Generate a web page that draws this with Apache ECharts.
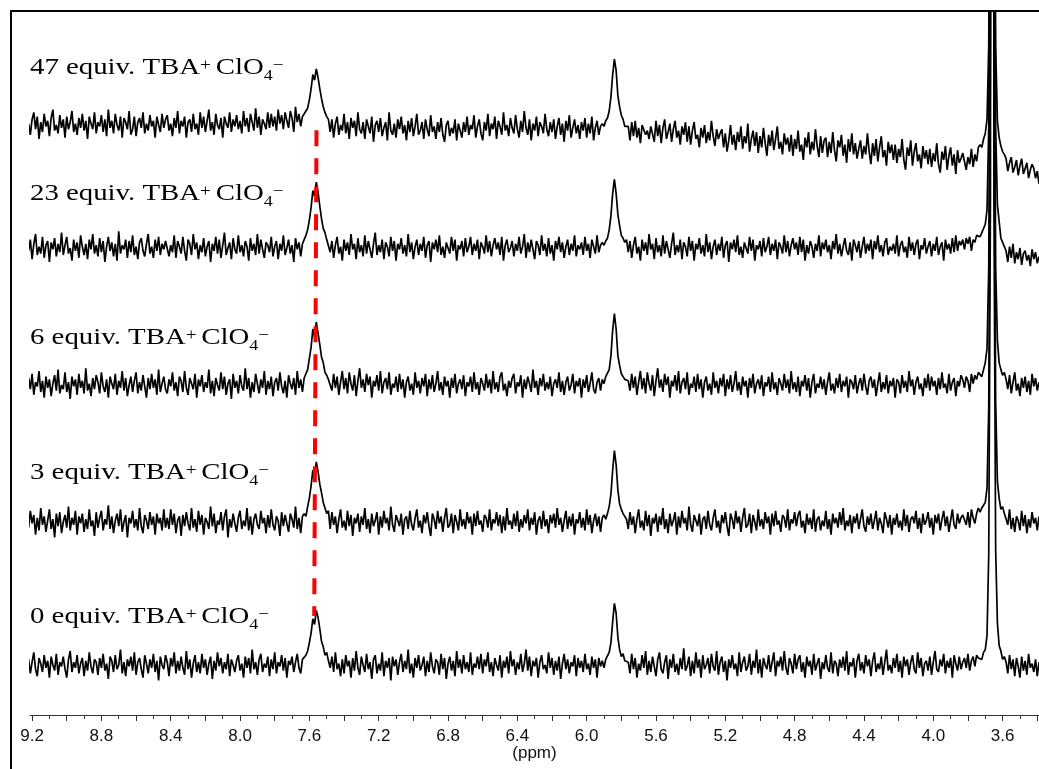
<!DOCTYPE html>
<html><head><meta charset="utf-8">
<script src="https://cdn.jsdelivr.net/npm/echarts@6/dist/echarts.min.js"></script>
<style>html,body{margin:0;padding:0;background:#fff}#c{width:1039px;height:769px}</style>
</head><body><div id="c"></div>
<script>
// chemical shift sample positions (ppm), 0.01 ppm apart
const ppm = [
9.22,9.21,9.20,9.19,9.18,9.17,9.16,9.15,9.14,9.13,9.12,9.11,9.10,9.09,9.08,9.07,9.06,9.05,9.04,9.03,
9.02,9.01,9.00,8.99,8.98,8.97,8.96,8.95,8.94,8.93,8.92,8.91,8.90,8.89,8.88,8.87,8.86,8.85,8.84,8.83,
8.82,8.81,8.80,8.79,8.78,8.77,8.76,8.75,8.74,8.73,8.72,8.71,8.70,8.69,8.68,8.67,8.66,8.65,8.64,8.63,
8.62,8.61,8.60,8.59,8.58,8.57,8.56,8.55,8.54,8.53,8.52,8.51,8.50,8.49,8.48,8.47,8.46,8.45,8.44,8.43,
8.42,8.41,8.40,8.39,8.38,8.37,8.36,8.35,8.34,8.33,8.32,8.31,8.30,8.29,8.28,8.27,8.26,8.25,8.24,8.23,
8.22,8.21,8.20,8.19,8.18,8.17,8.16,8.15,8.14,8.13,8.12,8.11,8.10,8.09,8.08,8.07,8.06,8.05,8.04,8.03,
8.02,8.01,8.00,7.99,7.98,7.97,7.96,7.95,7.94,7.93,7.92,7.91,7.90,7.89,7.88,7.87,7.86,7.85,7.84,7.83,
7.82,7.81,7.80,7.79,7.78,7.77,7.76,7.75,7.74,7.73,7.72,7.71,7.70,7.69,7.68,7.67,7.66,7.65,7.64,7.63,
7.62,7.61,7.60,7.59,7.58,7.57,7.56,7.55,7.54,7.53,7.52,7.51,7.50,7.49,7.48,7.47,7.46,7.45,7.44,7.43,
7.42,7.41,7.40,7.39,7.38,7.37,7.36,7.35,7.34,7.33,7.32,7.31,7.30,7.29,7.28,7.27,7.26,7.25,7.24,7.23,
7.22,7.21,7.20,7.19,7.18,7.17,7.16,7.15,7.14,7.13,7.12,7.11,7.10,7.09,7.08,7.07,7.06,7.05,7.04,7.03,
7.02,7.01,7.00,6.99,6.98,6.97,6.96,6.95,6.94,6.93,6.92,6.91,6.90,6.89,6.88,6.87,6.86,6.85,6.84,6.83,
6.82,6.81,6.80,6.79,6.78,6.77,6.76,6.75,6.74,6.73,6.72,6.71,6.70,6.69,6.68,6.67,6.66,6.65,6.64,6.63,
6.62,6.61,6.60,6.59,6.58,6.57,6.56,6.55,6.54,6.53,6.52,6.51,6.50,6.49,6.48,6.47,6.46,6.45,6.44,6.43,
6.42,6.41,6.40,6.39,6.38,6.37,6.36,6.35,6.34,6.33,6.32,6.31,6.30,6.29,6.28,6.27,6.26,6.25,6.24,6.23,
6.22,6.21,6.20,6.19,6.18,6.17,6.16,6.15,6.14,6.13,6.12,6.11,6.10,6.09,6.08,6.07,6.06,6.05,6.04,6.03,
6.02,6.01,6.00,5.99,5.98,5.97,5.96,5.95,5.94,5.93,5.92,5.91,5.90,5.89,5.88,5.87,5.86,5.85,5.84,5.83,
5.82,5.81,5.80,5.79,5.78,5.77,5.76,5.75,5.74,5.73,5.72,5.71,5.70,5.69,5.68,5.67,5.66,5.65,5.64,5.63,
5.62,5.61,5.60,5.59,5.58,5.57,5.56,5.55,5.54,5.53,5.52,5.51,5.50,5.49,5.48,5.47,5.46,5.45,5.44,5.43,
5.42,5.41,5.40,5.39,5.38,5.37,5.36,5.35,5.34,5.33,5.32,5.31,5.30,5.29,5.28,5.27,5.26,5.25,5.24,5.23,
5.22,5.21,5.20,5.19,5.18,5.17,5.16,5.15,5.14,5.13,5.12,5.11,5.10,5.09,5.08,5.07,5.06,5.05,5.04,5.03,
5.02,5.01,5.00,4.99,4.98,4.97,4.96,4.95,4.94,4.93,4.92,4.91,4.90,4.89,4.88,4.87,4.86,4.85,4.84,4.83,
4.82,4.81,4.80,4.79,4.78,4.77,4.76,4.75,4.74,4.73,4.72,4.71,4.70,4.69,4.68,4.67,4.66,4.65,4.64,4.63,
4.62,4.61,4.60,4.59,4.58,4.57,4.56,4.55,4.54,4.53,4.52,4.51,4.50,4.49,4.48,4.47,4.46,4.45,4.44,4.43,
4.42,4.41,4.40,4.39,4.38,4.37,4.36,4.35,4.34,4.33,4.32,4.31,4.30,4.29,4.28,4.27,4.26,4.25,4.24,4.23,
4.22,4.21,4.20,4.19,4.18,4.17,4.16,4.15,4.14,4.13,4.12,4.11,4.10,4.09,4.08,4.07,4.06,4.05,4.04,4.03,
4.02,4.01,4.00,3.99,3.98,3.97,3.96,3.95,3.94,3.93,3.92,3.91,3.90,3.89,3.88,3.87,3.86,3.85,3.84,3.83,
3.82,3.81,3.80,3.79,3.78,3.77,3.76,3.75,3.74,3.73,3.72,3.71,3.70,3.69,3.68,3.67,3.66,3.65,3.64,3.63,
3.62,3.61,3.60,3.59,3.58,3.57,3.56,3.55,3.54,3.53,3.52,3.51,3.50,3.49,3.48,3.47,3.46,3.45,3.44,3.43,
3.42,3.41,3.40,3.39
];

// intensities (a.u.), relative to that trace's own baseline
const int47 = [
1,-7,4,9,-3,6,-10,2,-5,8,-1,3,-8,5,11,-4,0,-6,7,-2,
4,-9,6,-3,2,10,-5,1,-7,5,-2,8,-4,3,-10,6,1,-3,9,-6,
2,-1,7,-5,4,-8,11,-2,3,-6,8,0,-4,6,-9,5,2,-3,10,-7,
-3,6,-8,2,5,-2,9,-6,1,-4,7,-1,3,-9,6,0,-5,8,-2,4,
7,-4,1,-8,5,-2,10,-6,3,-1,6,-9,2,4,-5,8,-3,1,-7,9,
-2,6,-5,3,11,-4,2,-7,8,0,-3,5,-9,6,1,-2,9,-5,4,-1,
7,-3,3,-6,10,-1,5,-5,8,2,-4,12,-2,6,-7,4,1,-3,9,-2,
8,-1,6,-4,11,1,7,-3,9,3,-2,10,5,-5,13,2,8,-1,6,7,
10,12,18,26,36,32,40,34,26,19,13,9,6,4,-5,4,-9,1,6,-7,
0,-4,8,-6,2,-10,5,-2,3,-8,9,-3,-6,2,-10,4,-1,-6,6,-12,
0,3,-5,5,-8,-2,2,-11,9,-4,-7,1,-9,4,-3,6,-6,0,-11,3,
-5,5,-8,-1,8,-7,-4,2,-10,4,-3,-8,7,-5,-1,-10,2,-5,5,-7,
-12,0,3,-8,-2,-6,4,-11,1,-4,-9,2,-5,6,-7,0,-3,7,-9,-1,
4,-6,-11,2,-4,8,-8,1,-3,6,-10,3,-1,-7,9,-4,0,-8,5,-2,
-6,7,-3,-9,3,-5,10,-2,-7,4,-11,1,-4,6,-8,2,-1,-6,8,-3,
-8,2,-5,4,-10,-1,5,-7,1,-12,3,-4,7,-9,-2,4,-6,0,-10,2,
-4,5,-9,1,-6,6,-11,-2,3,-7,-1,1,-1,3,5,10,20,36,47,39,
21,13,7,4,-1,-2,-1,-11,2,-8,3,-9,-2,-13,0,1,-7,-4,-10,-1,
-1,-12,3,-8,0,-13,-2,4,-10,-5,1,-12,-3,3,-9,-4,-14,-1,-7,2,
-12,-1,-14,-4,2,-10,-7,-16,-2,-9,0,-13,-5,-11,3,-8,-15,-3,-10,-6,
-3,-16,-6,-19,-11,0,-14,-7,-18,-5,-12,-1,-17,-8,-13,1,-19,-10,-4,-15,
-5,-20,-8,-16,-2,-13,-22,-7,-15,-4,-18,-10,-1,-17,-12,-21,-6,-14,-9,-19,
-7,-22,-10,-17,-4,-19,-14,-25,-9,-16,-5,-21,-12,-18,-3,-15,-23,-8,-20,-11,
-9,-23,-12,-20,-5,-18,-26,-11,-16,-7,-22,-14,-27,-10,-19,-6,-21,-13,-24,-17,
-11,-24,-15,-21,-6,-19,-28,-13,-22,-10,-26,-16,-8,-23,-18,-29,-12,-20,-14,-25,
-14,-27,-17,-23,-10,-25,-32,-16,-22,-11,-29,-19,-13,-26,-21,-31,-15,-24,-18,-28,
-17,-30,-20,-26,-13,-28,-34,-19,-25,-15,-32,-22,-16,-29,-21,-35,-18,-27,-24,-20,
-20,-32,-23,-28,-17,-30,-21,-26,-16,-14,-16,-10,-6,4,57,314,3000,307,56,3,
-9,-15,-19,-21,-24,-33,-27,-23,-34,-30,-25,-36,-29,-24,-35,-31,-27,-38,-32,-28,
-31,-38,-33,-42
];
const int23 = [
-2,6,-8,3,10,-5,1,-4,8,-7,2,5,-10,4,-1,7,-6,3,-3,11,
-5,2,8,-4,0,-9,6,-2,4,-7,9,1,-5,3,-8,6,-1,10,-4,2,
-6,7,-3,5,-10,1,8,-2,4,-6,3,-9,12,-4,2,-1,6,-7,5,-3,
9,-5,1,-8,4,7,-2,-6,3,10,-4,1,-7,6,-2,8,-5,3,-1,5,
4,-6,2,-3,9,-7,5,1,-4,8,-2,-9,6,3,-5,10,-1,4,-8,2,
-3,7,-6,1,5,-10,3,-2,8,-4,6,-7,2,11,-5,0,4,-8,7,-1,
-4,9,-3,2,-6,5,1,-9,7,-2,3,-5,10,-4,6,-1,-7,4,2,-3,
8,-6,1,5,-8,3,-2,9,-5,0,6,-4,2,-10,7,-1,4,-6,3,6,
9,13,20,29,41,37,47,40,30,21,14,11,6,6,-3,5,-7,2,8,-4,
1,-9,6,-2,4,-5,10,-1,3,-8,7,-3,2,-6,9,-4,5,-1,-7,3,
11,-5,2,-3,6,-8,4,1,-6,8,-2,5,-9,3,-1,7,-4,2,-6,10,
-3,4,-8,1,6,-5,3,-2,8,-7,2,5,-10,4,-1,6,-3,9,-5,1,
-7,4,3,-4,8,-2,6,-9,2,-1,5,-6,7,-3,1,8,-5,3,-2,6,
-8,4,1,-4,9,-3,5,-6,2,7,-1,4,-5,8,-9,2,6,-3,0,5,
-6,3,-2,8,-4,1,10,-7,4,-3,6,-1,-8,5,2,-5,9,-2,3,-6,
7,-4,2,-9,5,-1,8,-3,4,-7,1,6,-5,3,-2,9,-6,2,-1,4,
-5,8,-2,3,-7,6,1,-4,9,-3,2,4,2,5,7,13,23,39,49,39,
24,16,9,7,4,6,-3,5,-7,2,8,-4,1,-9,6,-2,4,-5,10,-1,
3,-8,7,-3,2,-6,9,-4,5,-1,-7,3,11,-5,2,-3,6,-8,4,1,
-6,8,-2,5,-9,3,-1,7,-4,2,-6,10,-3,4,-8,1,6,-5,3,-2,
8,-7,2,5,-10,4,-1,6,-3,9,-5,1,-7,4,3,-4,8,-2,6,-9,
2,-1,5,-6,7,-3,1,8,-5,3,-2,6,-8,4,1,-4,9,-3,5,-6,
2,7,-1,4,-5,8,-3,6,-9,2,-4,5,1,-7,3,-2,9,-6,4,-1,
6,-3,2,-8,5,-1,10,-4,3,-6,1,7,-2,-5,4,-9,6,2,-3,5,
-7,1,8,-4,3,-2,6,-8,5,-1,9,-3,2,-6,4,7,-5,1,-2,3,
-4,9,-6,2,5,-3,1,-7,8,-2,4,-5,3,6,-8,2,-1,7,-4,1,
5,-6,3,-2,8,-5,1,4,-9,6,-1,3,-4,7,-3,9,-2,5,2,6,
-1,7,3,8,-2,6,4,9,8,8,11,10,17,27,86,350,3000,343,86,31,
19,7,4,1,-2,-10,1,-7,3,-11,-3,-8,0,-12,-4,-2,-9,-5,-13,-1,
-8,-3,-11,-6
];
const int6 = [
5,-3,8,-7,2,-1,10,-5,3,-9,6,-2,4,-8,1,7,-4,11,-6,0,
-3,9,-5,2,-10,6,-1,4,-7,8,-2,3,-6,12,-4,1,-8,5,-3,7,
2,-6,9,-1,-5,4,-9,6,1,-3,8,-7,3,-2,10,-4,5,-8,0,6,
-5,3,9,-6,2,-4,7,-1,-9,5,-3,8,-2,4,-7,11,-5,1,6,-3,
-6,4,-1,9,-4,2,-8,6,3,-5,10,-2,-7,5,1,-3,8,-9,4,-1,
7,-5,2,-2,11,-6,3,-8,5,0,-4,9,-3,6,-7,1,4,-10,8,-2,
3,-6,7,-1,-4,12,-3,5,-9,2,-5,8,1,-6,4,-2,10,-7,3,-3,
6,-8,2,5,-4,9,-1,-6,3,-9,7,1,-3,5,-7,10,-2,4,-5,5,
8,11,19,27,40,34,45,37,29,20,16,9,7,4,3,-4,8,-2,6,-7,
2,10,-3,5,-6,9,1,-4,7,-8,3,12,-2,4,-5,8,0,6,-9,3,
-1,7,-4,10,-6,2,5,-3,9,-7,1,-2,6,-5,8,-3,4,-9,2,6,
-4,1,-7,9,-2,3,-6,5,-1,8,-8,4,-3,7,-5,1,10,-4,2,-7,
6,-1,3,-9,5,-2,8,-6,1,4,-3,7,-8,2,-1,6,-5,9,-3,2,
-7,5,1,-4,8,-2,4,-6,10,-3,2,-5,6,9,-4,1,-8,3,-2,5,
8,-6,2,-1,7,-9,4,-3,6,1,-5,11,-2,3,-7,5,-1,8,-4,2,
-3,6,-8,1,4,-2,9,-5,3,-7,2,6,-4,0,8,-6,3,-1,5,-9,
4,-2,7,-5,1,9,-3,-6,2,5,-4,4,1,6,5,11,21,39,51,40,
21,14,8,6,4,5,3,-4,8,-2,6,-7,2,10,-3,5,-6,9,1,-4,
7,-8,3,12,-2,4,-5,8,0,6,-9,3,-1,7,-4,10,-6,2,5,-3,
9,-7,1,-2,6,-5,8,-3,4,-9,2,6,-4,1,-7,9,-2,3,-6,5,
-1,8,-8,4,-3,7,-5,1,10,-4,2,-7,6,-1,3,-9,5,-2,8,-6,
1,4,-3,7,-8,2,-1,6,-5,9,-3,2,-7,5,1,-4,8,-2,4,-6,
10,-3,2,-5,6,-8,3,-1,7,-4,5,-9,2,8,-6,1,-2,6,-3,4,
-7,2,9,-4,1,-6,5,-2,8,-5,3,-1,6,-9,4,2,-3,7,-6,1,
5,-4,8,-1,-7,3,6,-2,4,-8,1,9,-5,2,-3,7,-6,3,-1,5,
-9,4,2,-6,7,-2,3,-5,10,-1,4,-7,2,6,-3,1,-8,5,-2,8,
-4,6,-1,3,-7,5,-3,9,-2,1,-6,8,-4,2,5,-8,3,-1,7,4,
-2,6,3,-5,8,1,7,4,9,9,6,11,16,26,84,343,3000,336,84,32,
16,11,7,9,4,-3,7,-6,2,9,-4,1,-8,5,-2,6,-5,3,-7,8,
-1,5,-4,2
];
const int3 = [
-4,8,-1,5,-9,3,-6,10,-2,4,-7,1,9,-5,2,-11,6,-3,7,-8,
0,5,-4,11,-6,3,-2,8,-9,4,-1,6,-7,2,-5,9,-3,1,-10,7,
-4,3,8,-6,2,-2,12,-5,4,-8,1,6,-3,9,-7,0,5,-11,3,-1,
8,-4,2,-6,10,-3,-8,5,1,-5,7,-2,4,-9,6,-1,3,-6,9,-4,
3,-5,9,-2,6,-8,1,4,-10,5,-3,7,-1,-6,10,-4,2,-7,8,-2,
5,-9,3,0,-5,11,-3,6,-8,1,-2,7,-6,4,9,-11,2,-4,6,-1,
-7,3,8,-5,1,-3,10,-6,4,-9,2,6,-2,-5,8,-1,3,-8,5,-4,
9,-2,-6,4,1,-10,7,-3,5,-1,-7,6,2,-4,11,-5,3,-8,4,6,
4,11,17,26,37,33,43,36,27,21,14,10,6,8,-5,7,-2,4,-8,2,
9,-4,1,-6,8,-3,5,-10,3,-1,6,-7,4,-2,10,-5,2,-8,6,-3,
1,7,-9,4,-4,8,-1,3,-6,11,-2,-7,5,1,-3,6,-9,2,4,-5,
8,-2,-6,3,9,-4,1,-8,5,-1,7,-3,-10,6,2,-5,8,-1,4,-7,
3,10,-4,-2,6,-8,5,0,-6,9,-3,2,-5,7,-1,4,-9,6,-3,8,
-2,1,-7,5,3,-4,9,-6,2,-1,7,-3,5,-8,4,-6,10,-2,1,-5,
6,-3,8,-7,2,-4,5,-1,9,-6,3,-2,7,-9,1,4,-5,8,-3,2,
-8,5,-1,6,-4,10,-2,3,-7,1,8,-5,4,-3,6,-9,2,-1,7,-4,
3,-6,9,-2,5,-8,1,6,-3,4,-7,3,5,2,6,11,20,37,51,41,
23,13,9,6,7,2,-5,7,-2,4,-8,2,9,-4,1,-6,8,-3,5,-10,
3,-1,6,-7,4,-2,10,-5,2,-8,6,-3,1,7,-9,4,-4,8,-1,3,
-6,11,-2,-7,5,1,-3,6,-9,2,4,-5,8,-2,-6,3,9,-4,1,-8,
5,-1,7,-3,-10,6,2,-5,8,-1,4,-7,3,10,-4,-2,6,-8,5,0,
-6,9,-3,2,-5,7,-1,4,-9,6,-3,8,-2,1,-7,5,3,-4,9,-6,
2,-1,7,-3,5,8,-4,1,-8,6,-2,3,-5,9,-7,2,4,-6,1,-3,
8,-5,2,-9,6,-1,3,-4,7,-2,10,-6,1,-3,5,-8,4,-1,6,-5,
2,9,-3,-7,4,-2,6,-5,1,8,-6,3,-1,-8,7,2,-4,5,-9,3,
-2,6,-4,1,-6,9,-3,5,-7,2,4,-1,8,-5,3,-8,6,-2,1,7,
-4,3,-9,5,-1,6,-6,2,8,-3,4,-7,1,9,-2,-5,6,-1,3,5,
4,-2,7,-4,9,3,-1,6,10,7,10,9,14,24,82,343,3000,336,86,29,
17,9,11,6,6,-2,9,-5,3,-7,4,1,-6,8,-3,5,-8,2,-4,7,
-1,3,-6,4
];
const int0 = [
4,-6,2,9,-3,-8,5,1,-5,7,-2,3,-9,6,0,-4,8,-7,2,-1,
6,-3,-9,4,10,-5,2,-2,7,-6,1,5,-8,3,-4,9,-1,-6,4,2,
-7,5,-2,8,-4,1,-10,6,3,-5,7,-3,0,11,-6,2,-8,4,-1,6,
-4,9,-7,2,5,-3,-9,7,1,-6,4,-2,8,-5,3,-11,6,0,-3,7,
2,-8,5,-1,9,-6,3,-4,6,-2,-7,10,-3,4,-9,1,7,-5,2,-6,
8,-2,4,-7,1,6,-10,3,-4,9,-1,5,-6,2,-3,8,-8,4,0,-5,
3,7,-4,1,-9,6,-2,5,-6,11,-3,2,-7,4,8,-5,1,-2,6,-8,
4,-3,9,-6,2,-1,7,-4,5,-9,3,0,6,-5,2,8,-2,-6,4,4,
7,10,16,23,33,29,39,34,26,17,13,7,9,3,-2,6,-5,9,-3,1,
-8,4,-6,7,-1,3,-9,5,-4,10,-2,-7,6,0,-5,8,-3,2,-10,4,
7,-6,1,-4,9,-8,3,-2,5,-11,6,-1,4,-7,2,8,-5,3,-3,11,
-6,1,-9,5,-2,7,-4,0,6,-8,3,-5,9,-1,-6,4,2,-7,8,-3,
5,-10,1,6,-4,3,-8,10,-2,4,-6,7,-3,2,-5,9,-7,1,-2,6,
-3,8,-6,4,-1,9,-5,2,-8,5,0,-4,7,-9,3,-2,6,-6,10,-1,
4,-7,2,-3,8,-5,1,11,-4,6,-8,3,-1,5,-9,2,7,-3,0,-6,
9,-2,5,-7,3,-4,6,-10,1,8,-3,4,-6,2,-1,7,-8,5,-2,3,
-5,8,-3,1,-7,6,-2,4,-9,5,-1,3,-2,4,4,9,16,31,44,37,
20,11,6,8,3,4,2,-6,8,-3,5,-9,1,-4,7,-2,10,-7,3,-5,
6,-1,-8,4,9,-3,-6,2,7,-10,4,-2,8,-5,1,-7,5,-3,12,-4,
-1,6,-8,3,-6,9,-2,4,-9,7,-3,0,5,-6,8,-1,-4,10,-7,2,
6,-5,3,-11,4,-2,7,-3,1,-8,9,-5,2,6,-4,-1,8,-7,3,-2,
11,-6,4,-9,5,0,-3,7,-5,2,9,-8,3,-1,6,-4,10,-2,-7,5,
1,-6,8,-3,4,7,-5,2,-9,6,-1,3,-7,8,-4,1,5,-10,2,-3,
7,-2,-5,9,-6,3,1,-8,4,-2,6,-4,10,-7,2,-1,5,-9,3,8,
-4,2,-6,7,-1,4,-8,3,9,-5,1,-3,6,-7,2,11,-4,0,-6,5,
-2,8,-5,3,-9,6,-1,4,-7,2,7,-3,-6,9,-2,5,-8,1,3,-4,
6,-7,2,10,-3,-5,4,-1,8,-6,3,-2,5,-9,7,1,-4,6,-3,2,
5,-2,8,-4,3,6,-1,7,5,6,4,9,11,21,79,336,3000,329,82,30,
14,10,4,6,2,-6,7,-3,4,-8,5,-1,-9,6,-4,3,-7,8,-2,1,
-5,4,-8,2
];

const equivLabels = ['47 equiv. TBA', '23 equiv. TBA', '6 equiv. TBA', '3 equiv. TBA', '0 equiv. TBA'];
const traces = [int47, int23, int6, int3, int0];

// guide line at the 7.56 ppm signal (a.u. of the bottom trace)
const guidePpm = [7.559, 7.572];
const guideVal = [382, 35];

// axis ticks
const majorTicks = [9.2,9.0,8.8,8.6,8.4,8.2,8.0,7.8,7.6,7.4,7.2,7.0,6.8,6.6,6.4,6.2,6.0,5.8,5.6,5.4,5.2,5.0,4.8,4.6,4.4,4.2,4.0,3.8,3.6,3.4];
const minorTicks = [9.1,8.9,8.7,8.5,8.3,8.1,7.9,7.7,7.5,7.3,7.1,6.9,6.7,6.5,6.3,6.1,5.9,5.7,5.5,5.3,5.1,4.9,4.7,4.5,4.3,4.1,3.9,3.7,3.5];
const tickLabels = [9.2,8.8,8.4,8.0,7.6,7.2,6.8,6.4,6.0,5.6,5.2,4.8,4.4,4.0,3.6];

// ---- layout ----
const gridTop = 12, gridBottom = 54, H = 769, gridH = H - gridTop - gridBottom;
const axisY = H - gridBottom;
const pxPerUnit = 1.4;                           // vertical scale of every trace
const baselinePx = [125, 248, 385, 522, 665];    // pixel baseline of each trace
const labelMidPx = [68, 194, 338, 473, 617];

const yAxes = baselinePx.map(b => {
  const mn = -(axisY - b) / pxPerUnit;
  return {type: 'value', min: mn, max: mn + gridH / pxPerUnit, show: false, gridIndex: 0};
});

const series = traces.map((arr, k) => ({
  type: 'line', yAxisIndex: k, xAxisIndex: 0,
  data: ppm.map((p, i) => [p, arr[i]]),
  showSymbol: false, symbol: 'none', clip: true,
  lineStyle: {color: '#000', width: 1.7},
  animation: false, silent: true, z: 2
}));
series.push({
  type: 'line', yAxisIndex: 4, xAxisIndex: 0,
  data: guidePpm.map((p, i) => [p, guideVal[i]]),
  showSymbol: false, symbol: 'none',
  lineStyle: {color: '#ff0000', width: 4, type: [16, 12], cap: 'butt'},
  animation: false, silent: true, z: 3
});

const richStyle = {
  m: {fontFamily: 'Liberation Serif', fontSize: 24, lineHeight: 36, fill: '#000'},
  s: {fontFamily: 'Liberation Serif', fontSize: 16, verticalAlign: 'top', padding: [8, 0, 0, 0], fill: '#000'},
  b: {fontFamily: 'Liberation Serif', fontSize: 15, verticalAlign: 'bottom', padding: [0, 0, 2, 0], fill: '#000'}
};

const graphics = [{
  type: 'polyline', silent: true, z: 10,
  shape: {points: [[11, 800], [11, 11], [1100, 11]]},
  style: {stroke: '#000', lineWidth: 2, fill: null}
}];
equivLabels.forEach((t, k) => {
  graphics.push({
    type: 'text', x: 30, y: labelMidPx[k], scaleX: 1.2, silent: true, z: 10,
    style: {
      text: '{m|' + t + '}{s|+ }{m|ClO}{b|4}{s|\u2212}',
      rich: richStyle, fill: '#000',
      align: 'left', verticalAlign: 'middle',
      textAlign: 'left', textVerticalAlign: 'middle'
    }
  });
});

const xBase = {type: 'value', min: 3.39, max: 9.212, inverse: true, position: 'bottom', gridIndex: 0, splitLine: {show: false}};

const option = {
  animation: false,
  backgroundColor: '#fff',
  grid: {left: 30, right: 0, top: gridTop, bottom: gridBottom, containLabel: false, outerBoundsMode: 'none'},
  xAxis: [
    Object.assign({}, xBase, {
      axisLine: {show: true, onZero: false, lineStyle: {color: '#333', width: 1}},
      axisTick: {show: true, customValues: majorTicks, length: 6, lineStyle: {color: '#333', width: 1}},
      axisLabel: {show: true, customValues: tickLabels, formatter: v => Number(v).toFixed(1), margin: 13,
        fontFamily: 'Liberation Sans', fontSize: 17, color: '#111'},
      name: '(ppm)', nameLocation: 'middle', nameGap: 30, nameMoveOverlap: false,
      nameTextStyle: {fontFamily: 'Liberation Sans', fontSize: 17, color: '#111'}
    }),
    Object.assign({}, xBase, {
      axisLine: {show: false, onZero: false},
      axisTick: {show: true, customValues: minorTicks, length: 4, lineStyle: {color: '#333', width: 1}},
      axisLabel: {show: false}
    })
  ],
  yAxis: yAxes,
  series: series,
  graphic: graphics
};

const chart = echarts.init(document.getElementById('c'), null, {renderer: 'canvas'});
chart.setOption(option);
</script>
</body></html>
